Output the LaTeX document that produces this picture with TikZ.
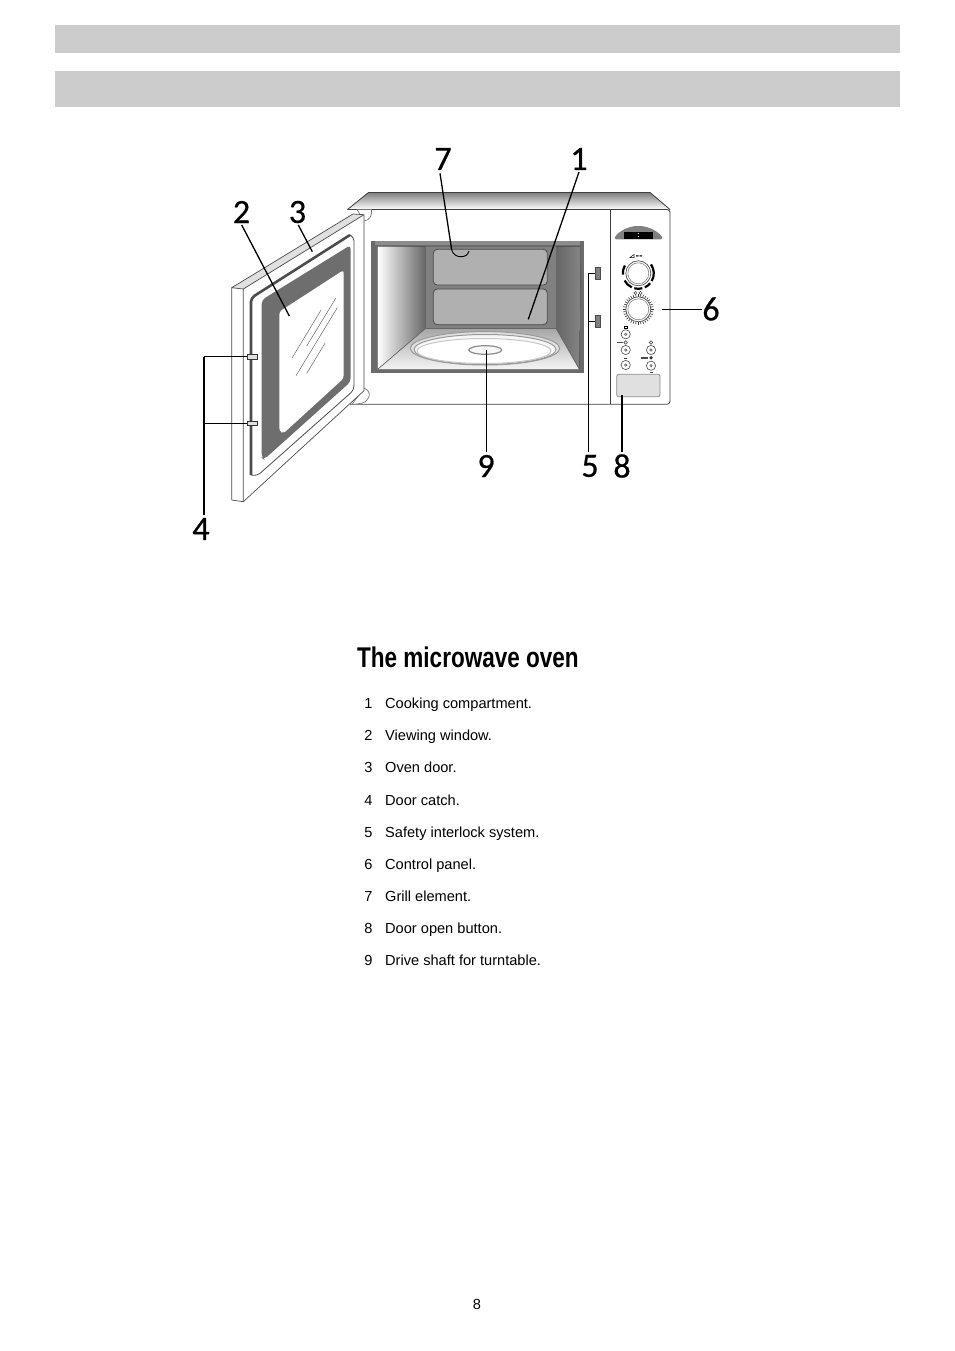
\documentclass[tikz,border=0pt]{standalone}
\usepackage{fontspec}
\setmainfont{Liberation Sans}
\newfontfamily\numfont[FakeBold=0.6]{Carlito}
\newfontfamily\titlefont[FakeStretch=0.79]{Liberation Sans Bold}
\definecolor{bar}{HTML}{CCCCCC}
\definecolor{darkfr}{HTML}{6E6E6E}
\definecolor{panelg}{HTML}{B0B0B0}
\tikzset{
  headbar/.style={fill=bar,draw=none},
  lead/.style={draw=black,line width=1.3pt},
  leadthick/.style={draw=black,line width=2.2pt},
  callout/.style={font=\numfont\fontsize{34}{34}\selectfont,inner sep=0pt,anchor=center},
  outl/.style={draw=black!75,line width=0.8pt},
  title/.style={font=\titlefont\fontsize{28.5}{30}\selectfont,inner sep=0pt,anchor=base west},
  num/.style={font=\fontsize{14.6}{16}\selectfont,inner sep=0pt,anchor=base},
  item/.style={font=\fontsize{14.6}{16}\selectfont,inner sep=0pt,anchor=base west},
  btn/.style={draw=black!70,fill=white,line width=0.6pt},
}
\begin{document}
\begin{tikzpicture}[x=1pt,y=-1pt]
\useasboundingbox (0,0) rectangle (954,1351);
\fill[white] (0,0) rectangle (954,1351);
% header bars
\path[headbar] (55,25) rectangle (900,53);
\path[headbar] (55,71) rectangle (900,107);

% oven body
\fill[top color=black!50,bottom color=white] (347.5,209.5) -- (368.5,192.5) -- (650,192.5) -- (670,209.5) -- cycle;
\draw[outl,line join=round] (347.5,209.5) -- (368.5,192.5) -- (650,192.5) -- (670,209.5);
\draw[outl,rounded corners=3pt] (347.5,209.5) -- (670,209.5) -- (670,404.3) -- (350,404.3);
\draw[outl] (610.6,209.5) -- (610.6,404.3);
% hinges
\draw[draw=black!55,line width=0.7pt,fill=white] (357,209.5) -- (371.5,209.5) .. controls (372,216) and (370,220) .. (364,221) -- cycle;
\draw[draw=black!55,line width=0.7pt,fill=white] (364,388) .. controls (370,390) and (371,396) .. (367,400) .. controls (365,403) and (360,404) .. (352,404.3) -- cycle;

% cavity
\fill[black!58] (370.7,241.3) rectangle (584,372.7);
\fill[black!45] (375,241.3) rectangle (580,245);
\fill[left color=white,middle color=black!38,right color=black!60] (377.7,246.7) -- (425.7,246.7) -- (425.7,328.3) -- (377.7,369.3) -- cycle;
\fill[left color=black!60,middle color=black!25,right color=black!48] (556,246.7) -- (580.7,246.7) -- (579.3,369.3) -- (556,328.3) -- cycle;
\fill[black!50] (425.7,246.7) rectangle (556,328.3);
\fill[top color=black!35,bottom color=black!4] (425.7,328.3) -- (556,328.3) -- (579.3,369.3) -- (377.7,369.3) -- cycle;
\draw[black!60,line width=0.6pt] (425.7,246.7) -- (425.7,328.3) -- (556,328.3) -- (556,246.7);
\draw[black!60,line width=0.6pt] (425.7,328.3) -- (377.7,369.3) (556,328.3) -- (579.3,369.3);
\draw[fill=panelg,draw=black!70,line width=0.8pt,rounded corners=4pt] (433.3,249.3) rectangle (547.3,285);
\draw[fill=panelg,draw=black!70,line width=0.8pt,rounded corners=4pt] (433.3,289) rectangle (547.3,324.7);
% turntable
\draw[fill=black!12,draw=black!40,line width=1pt] (485,348.3) ellipse [x radius=74.7pt,y radius=16.7pt];
\draw[fill=black!3,draw=black!40,line width=1pt] (485,349.5) ellipse [x radius=71pt,y radius=15pt];
\draw[fill=white,draw=black!22,line width=1pt] (484,351) ellipse [x radius=67pt,y radius=12.5pt];
\draw[fill=black!3,draw=black!45,line width=1.2pt] (485.3,350) ellipse [x radius=16.5pt,y radius=4.3pt];
% grill
\draw[black,line width=0.9pt] (451.7,250) .. controls (453,255) and (458,257) .. (461,256.7) .. controls (465,256.7) and (468,255) .. (469,251);

% interlock
\node[draw=black!70,fill=black!50,line width=0.6pt,minimum width=5.6pt,minimum height=12pt,inner sep=0pt] (lockA) at (597.8,273.3) {};
\node[draw=black!70,fill=black!50,line width=0.6pt,minimum width=5.6pt,minimum height=12pt,inner sep=0pt] (lockB) at (597.8,321.3) {};

% door
\fill[white] (231.7,287.7) -- (353,214) -- (364,214.7) -- (364,390.7) -- (243.3,501.7) -- (231.7,500) -- cycle;
\fill[black!12] (231.7,287.7) -- (243.3,289) -- (364,214.7) -- (353,214) -- cycle;
\draw[black!70,line width=0.7pt,line join=round] (231.7,287.7) -- (353,214) -- (364,214.7) -- (243.3,289) -- cycle;
\draw[black!70,line width=0.7pt,line join=round] (231.7,287.7) -- (231.7,500) -- (243.3,501.7) -- (243.3,289);
\draw[black!70,line width=0.7pt,line join=round] (243.3,501.7) -- (364,390.7) -- (364,214.7);
% gasket
\draw[draw=black!70,line width=2.6pt,rounded corners=4pt] (251,475) -- (251,298) -- (350,235);
\draw[draw=black!70,line width=0.8pt,rounded corners=4pt] (350,235) -- (354,237) -- (354,390) -- (257,476) -- (251,475);
% window frame
\fill[darkfr,rounded corners=4pt] (261.7,300) -- (350.7,245) -- (350.7,381.7) -- (264,459.5) -- (261.7,458) -- cycle;
\fill[white,rounded corners=3pt] (279.3,311.7) -- (343.7,270) -- (343.7,378.3) -- (283.3,433.5) -- (279.3,431) -- cycle;
\draw[black!60,line width=0.5pt] (292.3,357.7) -- (321,310) (306.7,346) -- (335.7,298.3) (296,375.7) -- (337.3,307.7) (306.7,373.3) -- (325,343.3);
% catches
\node[draw=black!80,fill=black!12,line width=0.6pt,minimum width=10pt,minimum height=4.4pt,inner sep=0pt] (catchA) at (252.7,356.6) {};
\node[draw=black!80,fill=black!12,line width=0.6pt,minimum width=10pt,minimum height=4.4pt,inner sep=0pt] (catchB) at (252.7,423.5) {};

% control panel
\fill[black!50,rounded corners=1.5pt] (614.3,239.3) .. controls (616,233) and (628,226) .. (638.3,226) .. controls (649,226) and (661,233) .. (662.7,239.3) -- cycle;
\fill[black] (624,231.7) rectangle (652.7,239.3);
\fill[white] (638.4,233.6) circle (0.6pt) (638.4,236.6) circle (0.6pt);
% dial 1
\draw[black,line width=2.2pt] (638.3,273.3) ++(-152:15.5pt) arc[start angle=-152,end angle=-115,radius=15.5pt];
\draw[black,line width=2.2pt] (638.3,273.3) ++(-105:15.5pt) arc[start angle=-105,end angle=-75,radius=15.5pt];
\draw[black,line width=2.2pt] (638.3,273.3) ++(-65:15.5pt) arc[start angle=-65,end angle=-40,radius=15.5pt];
\draw[black,line width=2.2pt] (638.3,273.3) ++(-30:15.5pt) arc[start angle=-30,end angle=35,radius=15.5pt];
\draw[black,line width=2.2pt] (638.3,273.3) ++(150:15.5pt) arc[start angle=150,end angle=185,radius=15.5pt];
\draw[black!70,line width=0.7pt] (638.3,273.3) circle (12.5pt);
\draw[black!50,line width=0.6pt,fill=white] (638.3,273.3) circle (10.5pt);
\draw[black,line width=0.5pt] (630,257.5) -- (634,254.5) -- (634,257.5) -- cycle;
\fill[black!70] (636,255) rectangle (638.5,256.5) (639.5,255) rectangle (642,256.5);
% dial 2
\foreach \a in {0,10,...,350} \draw[black!80,line width=0.6pt] (638.3,309.3) ++(\a:12.8pt) -- ++(\a:2.5pt);
\draw[black!70,line width=0.7pt] (638.3,309.3) circle (12.5pt);
\draw[black!50,line width=0.6pt,fill=white] (638.3,309.3) circle (10.5pt);
\draw[black!80,line width=0.5pt] (635.5,293) circle (1.6pt) (640.5,293) circle (1.6pt);
% buttons
\foreach \px/\py in {625.7/334.3,625.7/350,625.7/365,651/350,651/365.7}{
  \draw[btn] (\px,\py) circle (4.6pt);
  \draw[black!70,line width=0.5pt] (\px,\py) circle (1.2pt);
}
\draw[black,line width=0.6pt] (624.3,326) rectangle (627.2,328.6);
\draw[black!70,line width=0.6pt] (625.7,342.5) circle (1.8pt);
\fill[black!70] (617,342) rectangle (623,343.2);
\fill[black!80] (624,357.5) rectangle (627.4,359.2);
\draw[black!80,line width=0.6pt] (651,342.5) circle (1.8pt);
\fill[black!80] (651,357.8) circle (1.8pt);
\fill[black!70] (641,357.2) rectangle (648,358.6);
\fill[black!70] (650,372.2) rectangle (652.5,373.2);
% door-open button
\draw[draw=black!45,fill=black!12,line width=0.8pt,rounded corners=2pt] (616.7,374.3) rectangle (660,396.7);

% leader anchors
\coordinate (p7) at (451.7,250);
\coordinate (p1) at (528.3,319.3);
\coordinate (p2) at (289.3,316);
\coordinate (p3) at (312.3,251.7);
\coordinate (p9) at (486.3,350);
\coordinate (p6) at (661.7,309.3);
\coordinate (p8) at (621.7,395);
\coordinate (j4a) at (204,356.6);
\coordinate (j4b) at (204,423.5);
\coordinate (j5a) at (588.4,273.3);
\coordinate (j5b) at (588.4,321.3);

% call-out numbers
\node[callout] (n7) at (443,159) {7};
\node[callout] (n1) at (579,159) {1};
\node[callout] (n2) at (241.5,212) {2};
\node[callout] (n3) at (297.5,212) {3};
\node[callout] (n4) at (201,529) {4};
\node[callout] (n9) at (486,466) {9};
\node[callout] (n5) at (590,466) {5};
\node[callout] (n8) at (622,466) {8};
\node[callout] (n6) at (711,309) {6};

% leaders
\coordinate (s7) at (440,173.3);
\coordinate (s1) at (579,172);
\coordinate (s2) at (241.7,225);
\coordinate (s3) at (298.3,225);
\coordinate (s9) at (486.3,452);
\coordinate (s5) at (588.4,452);
\coordinate (s8) at (621.7,452);
\coordinate (s6) at (701.7,309.3);
\coordinate (s4) at (204,515);
\draw[lead] (s7) -- (p7);
\draw[lead] (s1) -- (p1);
\draw[lead] (s2) -- (p2);
\draw[lead] (s3) -- (p3);
\draw[lead] (s9) -- (p9);
\draw[lead] (s6) -- (p6);
\draw[leadthick] (s8) -- (p8);
\draw[leadthick] (s4) -- (j4a);
\draw[lead,line width=1.5pt] (j4a) -- (catchA.west);
\draw[lead,line width=1.5pt] (j4b) -- (catchB.west);
\draw[lead,line width=1.5pt] (s5) -- (j5a) -- (lockA.west);
\draw[lead,line width=1.5pt] (j5b) -- (lockB.west);

% text
\node[title] (title) at (357,667) {The microwave oven};
\foreach \nm/\yy/\tx in {1/708/Cooking compartment.,2/740/Viewing window.,3/772/Oven door.,4/805/Door catch.,5/837/Safety interlock system.,6/869/Control panel.,7/901/Grill element.,8/933/Door open button.,9/965/Drive shaft for turntable.}{
  \node[num] (num\nm) at (368.5,\yy) {\nm};
  \node[item] (item\nm) at (385,\yy) {\tx};
}
\node[num] (page) at (477,1309) {8};
\end{tikzpicture}
\end{document}
